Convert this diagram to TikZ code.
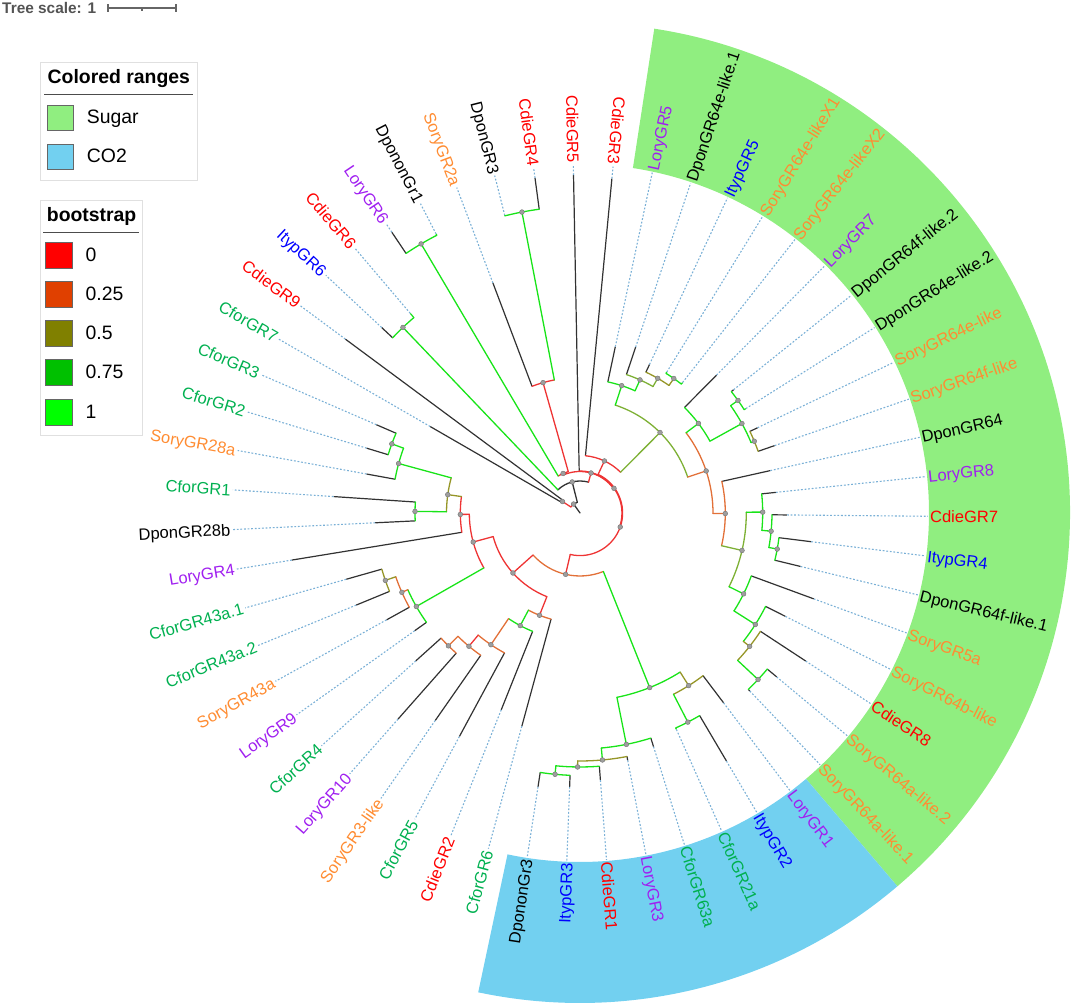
\documentclass[tikz,border=0pt]{standalone}
\usepackage{fontspec}
\setmainfont{Liberation Sans}
\definecolor{cfor}{RGB}{0,176,80}
\definecolor{cdie}{RGB}{255,0,0}
\definecolor{lory}{RGB}{160,32,240}
\definecolor{sory}{RGB}{255,140,50}
\definecolor{ityp}{RGB}{0,0,255}
\definecolor{dpon}{RGB}{0,0,0}
\definecolor{bR}{RGB}{238,52,52}
\definecolor{bO}{RGB}{226,112,56}
\definecolor{bY}{RGB}{125,176,52}
\definecolor{bL}{RGB}{150,150,40}
\definecolor{bG}{RGB}{24,228,24}
\definecolor{bK}{RGB}{50,50,50}
\definecolor{dotc}{RGB}{122,176,214}
\definecolor{sugar}{RGB}{144,238,128}
\definecolor{cotwo}{RGB}{114,208,240}
\definecolor{lgA}{RGB}{255,0,0}
\definecolor{lgB}{RGB}{224,64,0}
\definecolor{lgC}{RGB}{128,128,0}
\definecolor{lgD}{RGB}{0,192,0}
\definecolor{lgE}{RGB}{0,255,0}
\tikzset{
 br/.style={line width=1.3pt, line cap=round},
 leafbr/.style={line width=1.2pt, bK},
 dotline/.style={dotc, line width=1.1pt, dash pattern=on 1.8pt off 1.8pt},
 lab/.style={inner sep=0pt, font=\fontsize{16.5}{18}\selectfont, text height=11.8pt, text depth=0pt},
 ndot/.style={fill=black!38, draw=black!55, line width=0.4pt},
 legtxt/.style={inner sep=0pt, font=\fontsize{19.4}{22}\selectfont, text height=13.9pt, text depth=0pt, anchor=west},
 legttl/.style={inner sep=0pt, font=\bfseries\fontsize{19.4}{22}\selectfont, text height=13.9pt, text depth=0pt, anchor=west},
 legsq/.style={draw=black!60, line width=0.8pt},
 legbox/.style={draw=black!12, fill=white, line width=0.8pt},
}
\newcommand\tRb[4]{\draw[br,#4] (#1:#2pt) -- (#1:#3pt);}
\newcommand\tAb[4]{\draw[br,#4] (#1:#3pt) arc[start angle=#1, end angle=#2, radius=#3pt];}
\newcommand\tNd[2]{\path[ndot] (#1:#2pt) circle[radius=2.4pt];}
\newcommand\tLfR[7]{\draw[leafbr,#7] (#2:#3pt) -- (#2:#4pt); \draw[dotline] (#2:#4pt) -- (#2:348pt); \node[lab,text=#6,anchor=west,rotate=#2] (#1) at (#2:350pt) {#5};}
\newcommand\tLfL[7]{\draw[leafbr,#7] (#2:#3pt) -- (#2:#4pt); \draw[dotline] (#2:#4pt) -- (#2:348pt); \node[lab,text=#6,anchor=east,rotate={#2+180}] (#1) at (#2:350pt) {#5};}
\begin{document}
\begin{tikzpicture}[x=1pt,y=1pt]
\useasboundingbox (0,0) rectangle (1072,1006);
% legend
\node[font=\bfseries\fontsize{15.4}{17}\selectfont, text=black!67, inner sep=0pt, anchor=west, text height=11pt, text depth=0pt] (tscale) at (2,998) {Tree scale: 1};
\draw[black!60, line width=1.1pt] (108,998) -- (176,998) (108,994) -- (108,1002) (176,994) -- (176,1002) (142,998) -- (142,995);
\draw[legbox] (40,943.3) rectangle (197.3,826);
\node[legttl] (crt) at (47.5,929.3) {Colored ranges};
\draw[black!70, line width=1pt] (44.3,911) -- (193.3,911);
\draw[legsq, fill=sugar] (47.3,901) rectangle (73.3,876);
\node[legtxt] (sug) at (86.7,889.3) {Sugar};
\draw[legsq, fill=cotwo] (47.3,862) rectangle (73.3,836.3);
\node[legtxt] (cot) at (86.7,850.2) {CO2};
\draw[legbox] (40,806) rectangle (142.7,571);
\node[legttl] (bst) at (46.7,791) {bootstrap};
\draw[black!70, line width=1pt] (43.3,773.7) -- (138.7,773.7);
\draw[legsq, fill=lgA] (45.3,764) rectangle (72,738);
\node[legtxt] (b0) at (85.5,751) {0};
\draw[legsq, fill=lgB] (45.3,725) rectangle (72,699);
\node[legtxt] (b1) at (85.5,712) {0.25};
\draw[legsq, fill=lgC] (45.3,686) rectangle (72,660);
\node[legtxt] (b2) at (85.5,673) {0.5};
\draw[legsq, fill=lgD] (45.3,646.7) rectangle (72,620.7);
\node[legtxt] (b3) at (85.5,634) {0.75};
\draw[legsq, fill=lgE] (45.3,607) rectangle (72,581);
\node[legtxt] (b4) at (85.5,594.3) {1};
\begin{scope}[shift={(580,493)}]
% colored ranges
\fill[sugar] (-49.63:349pt) arc[start angle=-49.63, end angle=81.28, radius=349pt] -- (81.28:490pt) arc[start angle=81.28, end angle=-49.63, radius=490pt] -- cycle;
\fill[cotwo] (-101.99:349pt) arc[start angle=-101.99, end angle=-49.63, radius=349pt] -- (-49.63:490pt) arc[start angle=-49.63, end angle=-101.99, radius=490pt] -- cycle;
% leaves
\tLfL{l1}{91.10}{42}{338}{CdieGR5}{cdie}{bK}
\tLfL{l2}{84.55}{57.5}{336}{CdieGR3}{cdie}{bK}
\tLfR{l3}{78.01}{134}{170}{LoryGR5}{lory}{bK}
\tLfR{l4}{71.46}{146}{175}{DponGR64e-like.1}{dpon}{bK}
\tLfR{l5}{64.92}{155.5}{164}{ItypGR5}{ityp}{bK}
\tLfR{l6}{58.37}{164}{165.5}{SoryGR64e-likeX1}{sory}{bG}
\tLfR{l7}{51.83}{164}{166}{SoryGR64e-likeX2}{sory}{bG}
\tLfR{l8}{45.28}{148.5}{194}{LoryGR7}{lory}{bK}
\tLfR{l9}{38.74}{194}{197}{DponGR64f-like.2}{dpon}{bK}
\tLfR{l10}{32.19}{194}{196}{DponGR64e-like.2}{dpon}{bG}
\tLfR{l11}{25.65}{188.5}{197}{SoryGR64e-like}{sory}{bK}
\tLfR{l12}{19.10}{188.5}{206}{SoryGR64f-like}{sory}{bK}
\tLfR{l13}{12.56}{145.3}{195}{DponGR64}{dpon}{bK}
\tLfR{l14}{6.01}{182.7}{197}{LoryGR8}{lory}{bK}
\tLfR{l15}{-0.54}{192}{207}{CdieGR7}{cdie}{bK}
\tLfR{l16}{-7.08}{200.5}{233}{ItypGR4}{ityp}{bK}
\tLfR{l17}{-13.63}{200.5}{227}{DponGR64f-like.1}{dpon}{bK}
\tLfR{l18}{-20.17}{182.5}{249}{SoryGR5a}{sory}{bK}
\tLfR{l19}{-26.72}{207.8}{230}{SoryGR64b-like}{sory}{bK}
\tLfR{l20}{-33.26}{215.8}{270}{CdieGR8}{cdie}{bK}
\tLfR{l21}{-39.81}{243.8}{256}{SoryGR64a-like.2}{sory}{bK}
\tLfR{l22}{-46.35}{243.8}{246}{SoryGR64a-like.1}{sory}{bK}
\tLfR{l23}{-52.90}{204}{238}{LoryGR1}{lory}{bK}
\tLfR{l24}{-59.44}{235.3}{288}{ItypGR2}{ityp}{bK}
\tLfR{l25}{-65.99}{235.3}{237}{CforGR21a}{cfor}{bG}
\tLfR{l26}{-72.53}{236}{245}{CforGR63a}{cfor}{bK}
\tLfR{l27}{-79.08}{248}{252}{LoryGR3}{lory}{bK}
\tLfR{l28}{-85.63}{254}{268}{CdieGR1}{cdie}{bK}
\tLfL{l29}{-92.17}{262.5}{274}{ItypGR3}{ityp}{bK}
\tLfL{l30}{-98.72}{262.5}{277}{DpononGr3}{dpon}{bK}
\tLfL{l31}{-105.26}{110}{221}{CforGR6}{cfor}{bK}
\tLfL{l32}{-111.81}{127.5}{212}{CdieGR2}{cdie}{bK}
\tLfL{l33}{-118.35}{159}{254}{CforGR5}{cfor}{bK}
\tLfL{l34}{-124.90}{173.5}{253}{SoryGR3-like}{sory}{bK}
\tLfL{l35}{-131.44}{187}{275}{LoryGR10}{lory}{bK}
\tLfL{l36}{-137.99}{187}{221}{CforGR4}{cfor}{bK}
\tLfL{l37}{-144.54}{188.5}{203}{LoryGR9}{lory}{bK}
\tLfL{l38}{-151.08}{195}{221}{SoryGR43a}{sory}{bK}
\tLfL{l39}{-157.63}{206}{242}{CforGR43a.2}{cfor}{bK}
\tLfL{l40}{-164.17}{206}{243}{CforGR43a.1}{cfor}{bK}
\tLfL{l41}{-170.72}{119.7}{292}{LoryGR4}{lory}{bK}
\tLfL{l42}{-177.26}{165}{205}{DponGR28b}{dpon}{bK}
\tLfL{l43}{-183.81}{165}{247}{CforGR1}{cfor}{bK}
\tLfL{l44}{-190.35}{188}{217}{SoryGR28a}{sory}{bK}
\tLfL{l45}{-196.90}{200.5}{223}{CforGR2}{cfor}{bK}
\tLfL{l46}{-203.44}{200.5}{222}{CforGR3}{cfor}{bK}
\tLfL{l47}{150.01}{21}{173}{CforGR7}{cfor}{bK}
\tLfL{l48}{143.46}{21}{292}{CdieGR9}{cdie}{bK}
\tLfL{l49}{136.92}{256.5}{271.5}{ItypGR6}{ityp}{bK}
\tLfL{l50}{130.37}{256.5}{262}{CdieGR6}{cdie}{bG}
\tLfL{l51}{123.83}{312.5}{338}{LoryGR6}{lory}{bK}
\tLfL{l52}{117.28}{312.5}{314}{DpononGr1}{dpon}{bG}
\tLfL{l53}{110.74}{135.5}{246}{SoryGR2a}{sory}{bK}
\tLfL{l54}{104.19}{306.5}{307}{DponGR3}{dpon}{bG}
\tLfL{l55}{97.65}{306.5}{338}{CdieGR4}{cdie}{bK}
% root
\tRb{125.4}{0}{11}{bK}
\tAb{125.4}{146.74}{11}{bR}
\tAb{125.4}{104.11}{11}{bK}
\tRb{146.74}{11}{21}{bR}
\tAb{143.46}{150.01}{21}{bR}
\tRb{104.11}{11}{32}{bK}
\tAb{133.65}{74.58}{32}{bK}
\tRb{133.65}{32}{256.5}{bG}
\tAb{136.92}{130.37}{256.5}{bG}
\tRb{74.58}{32}{41.5}{bR}
\tAb{113.19}{35.96}{41.5}{bR}
\tRb{113.19}{41.5}{43}{bR}
\tAb{120.56}{105.83}{43}{bR}
\tRb{120.56}{43}{312.5}{bG}
\tAb{123.83}{117.28}{312.5}{bG}
\tRb{105.83}{43}{135.5}{bR}
\tAb{110.74}{100.92}{135.5}{bR}
\tRb{100.92}{135.5}{306.5}{bG}
\tAb{104.19}{97.65}{306.5}{bG}
\tRb{35.96}{41.5}{42}{bR}
\tAb{91.1}{-19.18}{42}{bR}
\tRb{-19.18}{42}{42.6}{bR}
\tAb{64.86}{-103.22}{42.6}{bR}
\tRb{64.86}{42.6}{57.5}{bR}
\tAb{84.55}{45.16}{57.5}{bR}
% sugar clade
\tRb{45.16}{57.5}{113.5}{bY}
\tAb{71.88}{18.44}{113.5}{bY}
\tRb{71.88}{113.5}{134}{bG}
\tAb{78.01}{65.74}{134}{bG}
\tRb{65.74}{134}{146}{bG}
\tAb{71.46}{60.01}{146}{bY}
\tRb{60.01}{146}{155.5}{bY}
\tAb{64.92}{55.10}{155.5}{bL}
\tRb{55.10}{155.5}{164}{bL}
\tAb{58.37}{51.83}{164}{bG}
\tRb{18.44}{113.5}{133}{bO}
\tAb{37.10}{-0.23}{133}{bO}
\tRb{37.10}{133}{148.5}{bG}
\tAb{45.28}{28.92}{148.5}{bG}
\tRb{28.92}{148.5}{185}{bG}
\tAb{35.47}{22.38}{185}{bG}
\tRb{35.47}{185}{194}{bG}
\tAb{38.74}{32.19}{194}{bG}
\tRb{22.38}{185}{188.5}{bG}
\tAb{25.65}{19.10}{188.5}{bL}
\tRb{-0.23}{133}{145.3}{bO}
\tAb{12.56}{-13.02}{145.3}{bO}
\tRb{-13.02}{145.3}{166.3}{bY}
\tAb{0.28}{-26.31}{166.3}{bY}
\tRb{0.28}{166.3}{182.7}{bG}
\tAb{6.01}{-5.45}{182.7}{bG}
\tRb{-5.45}{182.7}{192}{bG}
\tAb{-0.54}{-10.36}{192}{bG}
\tRb{-10.36}{192}{200.5}{bG}
\tAb{-7.08}{-13.63}{200.5}{bG}
\tRb{-26.31}{166.3}{182.5}{bG}
\tAb{-20.17}{-32.45}{182.5}{bG}
\tRb{-32.45}{182.5}{207.8}{bG}
\tAb{-26.72}{-38.17}{207.8}{bG}
\tRb{-38.17}{207.8}{215.8}{bL}
\tAb{-33.26}{-43.08}{215.8}{bL}
\tRb{-43.08}{215.8}{243.8}{bG}
\tAb{-39.81}{-46.35}{243.8}{bG}
% lower part
\tRb{-103.22}{42.6}{63}{bR}
\tAb{-68.24}{-138.19}{63}{bO}
\tRb{-68.24}{63}{188}{bG}
\tAb{-57.81}{-78.67}{188}{bG}
\tRb{-57.81}{188}{204}{bL}
\tAb{-52.90}{-62.72}{204}{bL}
\tRb{-62.72}{204}{235.3}{bG}
\tAb{-59.44}{-65.99}{235.3}{bG}
\tRb{-78.67}{188}{236}{bG}
\tAb{-72.53}{-84.81}{236}{bG}
\tRb{-84.81}{236}{248}{bG}
\tAb{-79.08}{-90.54}{248}{bL}
\tRb{-90.54}{248}{254}{bL}
\tAb{-85.63}{-95.45}{254}{bG}
\tRb{-95.45}{254}{262.5}{bG}
\tAb{-92.17}{-98.72}{262.5}{bG}
\tRb{-138.19}{63}{90}{bR}
\tAb{-111.6}{-164.79}{90}{bR}
\tRb{-111.6}{90}{110}{bR}
\tAb{-105.26}{-117.95}{110}{bO}
\tRb{-117.95}{110}{127.5}{bG}
\tAb{-111.81}{-124.08}{127.5}{bG}
\tRb{-124.08}{127.5}{159}{bO}
\tAb{-118.35}{-129.81}{159}{bO}
\tRb{-129.81}{159}{173.5}{bR}
\tAb{-124.90}{-134.72}{173.5}{bO}
\tRb{-134.72}{173.5}{187}{bO}
\tAb{-131.44}{-137.99}{187}{bO}
\tRb{-164.79}{90}{110.7}{bR}
\tAb{-150.26}{-179.31}{110.7}{bR}
\tRb{-150.26}{110.7}{188.5}{bG}
\tAb{-144.54}{-155.99}{188.5}{bG}
\tRb{-155.99}{188.5}{195}{bO}
\tAb{-151.08}{-160.90}{195}{bO}
\tRb{-160.90}{195}{206}{bL}
\tAb{-157.63}{-164.17}{206}{bL}
\tRb{-179.31}{110.7}{119.7}{bR}
\tAb{-170.72}{-187.9}{119.7}{bR}
\tRb{-187.9}{119.7}{133.5}{bL}
\tAb{-180.54}{-195.26}{133.5}{bL}
\tRb{-180.54}{133.5}{165}{bG}
\tAb{-177.26}{-183.81}{165}{bG}
\tRb{-195.26}{133.5}{188}{bG}
\tAb{-190.35}{-200.17}{188}{bG}
\tRb{-200.17}{188}{200.5}{bG}
\tAb{-196.90}{-203.44}{200.5}{bG}
% node dots
\tNd{125.4}{11}\tNd{146.74}{21}\tNd{104.11}{32}\tNd{74.58}{41.5}
\tNd{133.65}{256.5}\tNd{113.19}{43}\tNd{120.56}{312.5}\tNd{105.83}{135.5}
\tNd{100.92}{306.5}\tNd{35.96}{42}\tNd{-19.18}{42.6}\tNd{64.86}{57.5}
\tNd{45.16}{113.5}\tNd{71.88}{134}\tNd{65.74}{146}\tNd{60.01}{155.5}
\tNd{55.10}{164}\tNd{18.44}{133}\tNd{37.10}{148.5}\tNd{28.92}{185}
\tNd{35.47}{194}\tNd{22.38}{188.5}\tNd{-0.23}{145.3}\tNd{-13.02}{166.3}
\tNd{0.28}{182.7}\tNd{-5.45}{192}\tNd{-10.36}{200.5}\tNd{-26.31}{182.5}
\tNd{-32.45}{207.8}\tNd{-38.17}{215.8}\tNd{-43.08}{243.8}
\tNd{-103.22}{63}\tNd{-68.24}{188}\tNd{-57.81}{204}\tNd{-62.72}{235.3}
\tNd{-78.67}{236}\tNd{-84.81}{248}\tNd{-90.54}{254}\tNd{-95.45}{262.5}
\tNd{-138.19}{90}\tNd{-111.6}{110}\tNd{-117.95}{127.5}\tNd{-124.08}{159}
\tNd{-129.81}{173.5}\tNd{-134.72}{187}\tNd{-164.79}{110.7}\tNd{-150.26}{188.5}
\tNd{-155.99}{195}\tNd{-160.90}{206}\tNd{-179.31}{119.7}\tNd{-187.9}{133.5}
\tNd{-180.54}{165}\tNd{-195.26}{188}\tNd{-200.17}{200.5}
\end{scope}
\end{tikzpicture}
\end{document}
